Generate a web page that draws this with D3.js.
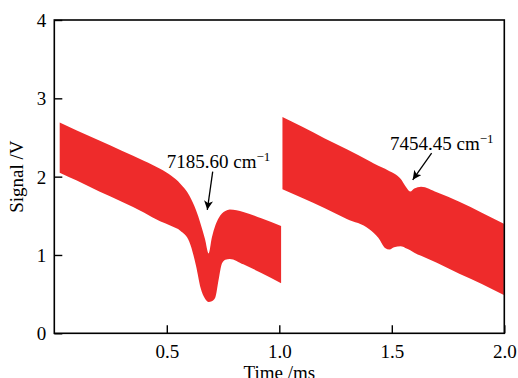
<!DOCTYPE html>
<html>
<head>
<meta charset="utf-8">
<script src="https://cdn.jsdelivr.net/npm/d3@7"></script>
<style>
  body { margin: 0; background: #fff; }
  svg { display: block; }
</style>
</head>
<body>
<div id="chart"></div>
<script>
// --- DATA ---

// first sweep (0 - 1 ms), upper / lower envelope of the modulated signal
const time1 = [0.024, 0.1, 0.2, 0.3, 0.4, 0.47, 0.52, 0.56, 0.6, 0.63, 0.65, 0.67, 0.686, 0.70, 0.716, 0.73, 0.745, 0.76, 0.78, 0.84, 0.92, 1.008];
const upper1 = [2.69, 2.59, 2.46, 2.33, 2.20, 2.10, 2.01, 1.91, 1.76, 1.57, 1.40, 1.20, 1.02, 1.22, 1.38, 1.47, 1.53, 1.56, 1.58, 1.55, 1.47, 1.37];
const lower1 = [2.05, 1.95, 1.81, 1.68, 1.54, 1.43, 1.37, 1.31, 1.17, 0.86, 0.58, 0.44, 0.40, 0.41, 0.46, 0.68, 0.89, 0.94, 0.95, 0.88, 0.77, 0.64];

// second sweep (1 - 2 ms)
const time2 = [1.014, 1.1, 1.2, 1.3, 1.4, 1.44, 1.47, 1.49, 1.51, 1.54, 1.56, 1.582, 1.60, 1.63, 1.7, 1.8, 1.9, 1.998];
const upper2 = [2.76, 2.64, 2.49, 2.35, 2.20, 2.14, 2.10, 2.07, 2.04, 1.97, 1.88, 1.81, 1.85, 1.87, 1.80, 1.68, 1.54, 1.40];
const lower2 = [1.84, 1.73, 1.60, 1.46, 1.33, 1.22, 1.09, 1.07, 1.10, 1.11, 1.09, 1.06, 1.03, 0.99, 0.90, 0.76, 0.63, 0.49];

const xTicks = [0.5, 1.0, 1.5, 2.0];
const yTicks = [0, 1, 2, 3, 4];

// annotations: label text, label anchor (t, V), arrow start and tip (t, V)
const annoText = ["7185.60 cm", "7454.45 cm"];
const annoLabel = [[0.50, 2.11], [1.492, 2.34]];
const annoFrom = [[0.704, 2.065], [1.677, 2.30]];
const annoTo = [[0.680, 1.576], [1.593, 1.96]];

// --- LAYOUT ---
const WIDTH = 518, HEIGHT = 378;
const MARGIN = { top: 20, right: 13.7, bottom: 44.7, left: 54.3 };
const RED = "#ee2b2b";
const FONT = "'Liberation Serif', 'Times New Roman', serif";

const svg = d3.select("#chart").append("svg")
    .attr("width", WIDTH)
    .attr("height", HEIGHT)
    .style("font-family", FONT);

const x = d3.scaleLinear().domain([0, 2]).range([MARGIN.left, WIDTH - MARGIN.right]);
const y = d3.scaleLinear().domain([0, 4]).range([HEIGHT - MARGIN.bottom, MARGIN.top]);

const area = d3.area()
    .x(d => x(d.t))
    .y0(d => y(d.lo))
    .y1(d => y(d.hi))
    .curve(d3.curveMonotoneX);

const sweeps = [
    time1.map((t, i) => ({ t, hi: upper1[i], lo: lower1[i] })),
    time2.map((t, i) => ({ t, hi: upper2[i], lo: lower2[i] }))
];

svg.selectAll("path.band")
    .data(sweeps)
    .join("path")
    .attr("class", "band")
    .attr("fill", RED)
    .attr("d", area);

// --- AXES (ticks point inward, full frame) ---
const axisStyle = g => {
    g.select(".domain").remove();
    g.selectAll(".tick line").attr("stroke", "#000").attr("stroke-width", 1.4);
    g.selectAll(".tick text")
        .attr("fill", "#000")
        .style("font-size", "19px")
        .style("font-family", FONT);
};

svg.append("g")
    .attr("transform", `translate(0,${y(0)})`)
    .call(d3.axisBottom(x).tickValues(xTicks).tickFormat(d3.format(".1f")).tickSizeInner(-8).tickSizeOuter(0).tickPadding(11))
    .call(axisStyle);

svg.append("g")
    .attr("transform", `translate(${x(0)},0)`)
    .call(d3.axisLeft(y).tickValues(yTicks).tickFormat(d3.format("d")).tickSizeInner(-8).tickSizeOuter(0).tickPadding(8))
    .call(axisStyle)
    .selectAll(".tick text").attr("dy", "0.35em");

svg.append("rect")
    .attr("x", x(0))
    .attr("y", y(4))
    .attr("width", x(2) - x(0))
    .attr("height", y(0) - y(4))
    .attr("fill", "none")
    .attr("stroke", "#000")
    .attr("stroke-width", 1.6);

// axis titles
svg.append("text")
    .attr("x", (x(0) + x(2)) / 2)
    .attr("y", HEIGHT + 1)
    .attr("text-anchor", "middle")
    .style("font-size", "19px")
    .text("Time /ms");

svg.append("text")
    .attr("transform", `translate(23,${(y(0) + y(4)) / 2}) rotate(-90)`)
    .attr("text-anchor", "middle")
    .style("font-size", "19px")
    .text("Signal /V");

// --- ANNOTATIONS ---
svg.append("defs").append("marker")
    .attr("id", "head")
    .attr("viewBox", "0 0 10 10")
    .attr("refX", 10)
    .attr("refY", 5)
    .attr("markerWidth", 9)
    .attr("markerHeight", 9)
    .attr("markerUnits", "userSpaceOnUse")
    .attr("orient", "auto")
    .append("path")
    .attr("d", "M0,0 L10,5 L0,10 L2.5,5 Z")
    .attr("fill", "#000");

annoText.forEach((txt, i) => {
    const label = svg.append("text")
        .attr("x", x(annoLabel[i][0]))
        .attr("y", y(annoLabel[i][1]))
        .style("font-size", "19px")
        .text(txt);
    label.append("tspan")
        .attr("dy", "-7")
        .style("font-size", "13px")
        .text("\u22121");

    svg.append("line")
        .attr("x1", x(annoFrom[i][0]))
        .attr("y1", y(annoFrom[i][1]))
        .attr("x2", x(annoTo[i][0]))
        .attr("y2", y(annoTo[i][1]))
        .attr("stroke", "#000")
        .attr("stroke-width", 1.3)
        .attr("marker-end", "url(#head)");
});
</script>
</body>
</html>
